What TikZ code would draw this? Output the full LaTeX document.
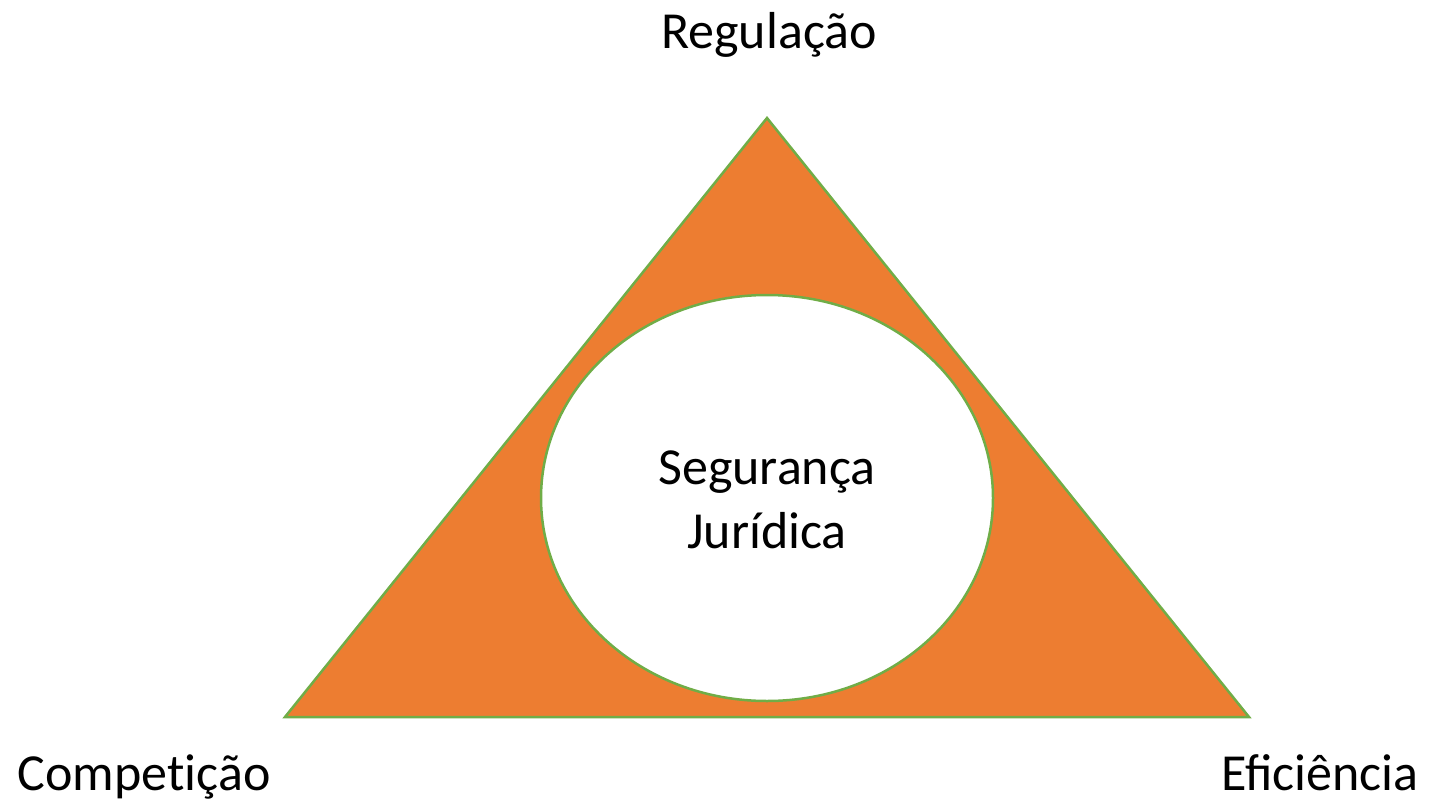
\documentclass[tikz,border=0pt]{standalone}
\usepackage{fontspec}
\setmainfont{Carlito}
\usetikzlibrary{shapes.geometric}
\definecolor{tri}{HTML}{ED7D31}
\definecolor{edge}{HTML}{70AD47}
\begin{document}
\begin{tikzpicture}[x=1pt,y=-1pt,
  lbl/.style={font=\fontsize{52}{64}\selectfont, inner sep=0pt, anchor=base}]
\useasboundingbox (0,0) rectangle (1429,803);
\coordinate (top) at (767,118);
\coordinate (bl) at (285,717);
\coordinate (br) at (1249,717);
\draw[edge, line width=2.5pt, fill=tri, line join=miter] (top) -- (bl) -- (br) -- cycle;
\node[draw=edge, line width=2.5pt, fill=white, ellipse, minimum width=452pt, minimum height=406pt, inner sep=0pt] (ell) at (767,498) {};
\node[lbl] (reg) at (769,48) {Regulação};
\node[lbl] (comp) at (144,790) {Compet\kern0pt ição};
\node[lbl] (efic) at (1320,790) {Eficiência};
\node[lbl] (seg) at (767,484) {Segurança};
\node[lbl] (jur) at (767,548) {Jurídica};
\end{tikzpicture}
\end{document}
